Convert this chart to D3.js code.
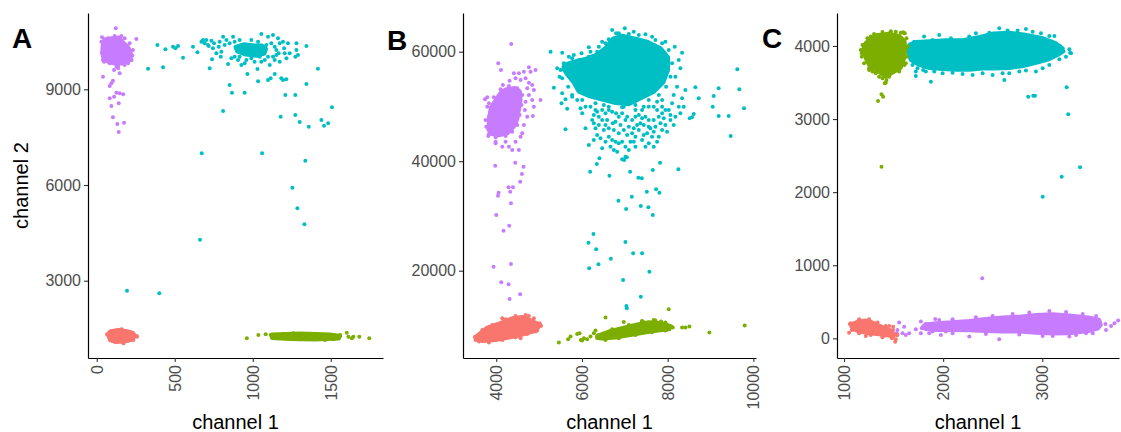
<!DOCTYPE html>
<html>
<head>
<meta charset="utf-8">
<script src="https://cdn.jsdelivr.net/npm/d3@7"></script>
<style>
  body { margin: 0; background: #fff; }
  svg text { font-family: "Liberation Sans", Arial, sans-serif; }
</style>
</head>
<body>
<svg id="chart" width="1121" height="432"></svg>
<script>
// ---------------- DATA (channel 1, channel 2) ----------------
// "Core" arrays are outlines of the densest part of a cluster, "Pts" are single droplets

// Panel A
const aXTicks = [0, 500, 1000, 1500];
const aYTicks = [3000, 6000, 9000];

const aRedCore = [[85,1407],[137,1454],[188,1423],[233,1360],[246,1266],[226,1156],[175,1094],[124,1078],[85,1140],[76,1266]];
const aRedPts = [[66,1313],[258,1242],[100,1420],[200,1120],[150,1460],[230,1200],
  [74,1351],[117,1432],[160,1476],[213,1370],[256,1266],[235,1140],[171,1037],[117,1087],[85,1194]];

const aGreenCore = [[1124,1313],[1303,1344],[1495,1313],[1560,1266],[1553,1188],[1399,1156],[1239,1172],[1124,1203]];
const aGreenPts = [[962,1194],[1036,1297],[1083,1319],[1115,1297],[1143,1244],[1603,1370],[1613,1244],[1635,1194],
  [1645,1244],[1683,1244],[1747,1194],[1196,1329],[1303,1162],[1410,1329],[1517,1162],[1560,1297],[1260,1350],[1463,1140]];

const aTealCore = [[890,10330],[940,10410],[1013,10370],[1060,10370],[1085,10270],[1075,10120],[1025,10050],[955,10090],[900,10190]];
const aTealPts = [[329,9647],[389,10389],[425,9689],[440,10253],[489,10336],[504,10284],[521,10357],[553,9992],[617,10336],
  [645,10159],[681,10546],[692,10441],[718,10357],[735,10525],[752,10441],[767,10128],[782,10336],[795,10023],[724,9657],
  [739,9939],[810,10650],[820,10389],[842,9793],[874,10650],[852,9135],[867,8894],[810,8320],[948,8894],[966,9480],
  [916,10546],[948,9814],[991,10546],[1030,9636],[1034,9250],[1055,10734],[1098,10650],[1098,9292],[1115,9344],[1130,10702],
  [1141,9480],[1162,10598],[1166,10128],[1173,9866],[1183,9344],[1194,9292],[1215,9312],[1209,8821],[1226,10441],[1237,10128],
  [1179,8142],[1273,8821],[1280,10441],[1280,10232],[1273,10023],[1290,10075],[1273,8194],[1301,7975],[1344,10357],[1344,9166],
  [1359,7829],[1418,9647],[1440,8038],[1457,7860],[1483,7933],[1508,8435],[970,10232],[1012,10128],[1077,9919],[1141,9919],
  [1151,10232],[906,9919],[884,10023],[1055,9866],[1012,9866],[959,9919],[1201,10284],[1216,9971],[1109,9762],[1045,10023],
  [1130,10023],[799,10180],[927,9762],
  [671,10493],[702,10546],[713,10389],[745,10284],[788,10493],[831,10546],[852,10441],[884,10493],[895,10284],[916,10180],
  [938,10337],[981,10389],[1002,10284],[1034,10493],[1066,10232],[1087,10389],[1119,10441],[1141,10337],[1173,10441],
  [1194,10493],[1205,10128],[863,9971],[916,10023],[991,9971],[1098,10023],[1151,10075],
  [673,6994],[1060,6994],[1337,6762],[1254,5915],[1286,5269],[1331,4768],[662,4285],[194,2686],[401,2605]];

const aPurpleCore = [[48,10561],[95,10602],[144,10621],[172,10452],[203,10310],[223,10075],[203,9900],[165,9806],[115,9809],
  [78,9856],[43,9953],[35,10179],[39,10414]];
const aPurplePts = [[122,10912],[34,10630],[254,10577],[158,10671],[228,10053],[40,9395],[104,9270],[147,9502],[94,9188],
  [83,9103],[126,8893],[147,8875],[169,8843],[83,8718],[111,8768],[141,8561],[94,8476],[104,8122],[132,7912],[175,7953],
  [141,7661],[126,9709],[111,9605],[137,9658],[72,9919],[47,9865],[201,9815],[222,9919],
  [30,10493],[34,10128],[40,9919],[72,10598],[115,10671],[179,10598],[211,10441],[232,10232],[222,9919],[179,9762],
  [137,9730],[83,9814]];

// Panel B
const bXTicks = [4000, 6000, 8000, 10000];
const bYTicks = [20000, 40000, 60000];

const bRedCore = [[3565,8208],[3775,9547],[4078,10399],[4373,11312],[4606,11555],[4777,11008],[4964,10338],[4979,9608],
  [4855,8877],[4591,8268],[4295,7782],[3985,7355],[3674,7173],[3557,7538]];
const bRedPts = [[3503,7843],[3518,7355],[5010,10399],[5041,9912],[4917,8877],[4567,7660],[4140,11312],[4761,11738],
  [3518,7964],[3674,9181],[3907,10094],[4218,11129],[4451,11738],[4684,11921],[4878,11312],[5033,10094],[4956,9060],
  [4723,8451],[4451,7843],[4140,7355],[3829,6868],[3596,7051]];

const bGreenCore = [[6354,8086],[6642,8938],[6953,9547],[7264,10155],[7559,10582],[7854,10399],[8056,9912],[8040,9303],
  [7776,9060],[7465,8694],[7093,8207],[6782,7782],[6471,7599],[6354,7721]];
const bGreenPts = [[5461,6868],[5678,7477],[5733,7964],[5888,8451],[5943,8573],[5974,7355],[6044,7660],[6199,7964],
  [6277,8573],[6316,9060],[6549,11434],[6976,10642],[7403,10825],[7442,10582],[7846,10703],[8025,12956],[8118,9608],
  [8336,9608],[8413,9608],[8507,9790],[8973,8694],[9796,9973],[6005,7234],[6121,7477],[7947,9486],[7714,10886],
  [6393,8269],[6704,9303],[7093,10094],[7403,10703],[7675,11008],[7947,10521],[8087,9790],[7947,9060],[7636,8755],
  [7248,8269],[6859,7660],[6549,7355]];

const bTealCore = [[5577,57570],[5810,58179],[6098,58727],[6331,59397],[6564,60797],[6720,62379],[6937,62927],[7248,62379],
  [7543,61770],[7838,60614],[8009,58971],[8009,56657],[7901,54405],[7683,52701],[7388,51544],[7093,50388],[6782,50631],
  [6471,51240],[6183,51849],[5927,52701],[5810,54345],[5647,55866],[5570,56901]];
const bTealPts = [[5267,60005],[5539,59823],[5694,59092],[5810,59397],[5989,59703],[6160,60797],[6199,60005],[6393,60917],
  [6471,61831],[6704,63962],[6859,63353],[6999,64266],[7209,63657],[7481,63170],[7714,62136],[7947,61831],[8165,60917],
  [8336,59823],[8258,58484],[8297,56962],[8180,55440],[8219,53614],[8141,52092],[8336,51484],[8413,53005],[8647,53492],
  [8724,51484],[9074,51910],[9190,53314],[9051,49962],[9190,48258],[9423,48258],[9625,56779],[9672,53127],[9781,49657],
  [9470,44605],[8569,48014],[8608,48623],[8514,47832],[5422,56962],[5476,55440],[5344,53431],[5539,52397],[5616,51301],
  [5523,50570],[5655,49596],[5616,45822],[6082,46005],[6160,42962],[6277,43875],[6277,46918],[6393,48136],[6510,45701],
  [6549,43570],[6626,44483],[6720,46918],[6797,48744],[6859,45092],[6937,43570],[7015,42657],[7093,46310],[7170,47527],
  [7248,44483],[7326,48440],[7442,46614],[7520,45092],[7559,43266],[7675,47527],[7714,46310],[7792,44483],[7870,48744],
  [7947,46614],[8025,49353],[8103,50570],[8180,48136],[8258,49962],[7870,51179],[7559,49962],[7403,49353],[7248,49353],
  [6937,48744],[6626,49353],[6471,49353],[6316,49353],[6199,49962],[6082,49962],[5966,49657],[5888,51179],[5771,51788],
  [7015,40831],[6937,40344],[6743,42049],[6471,42353],[6782,43570],[7131,43570],[7326,45701],[7597,46005],[7792,48136],
  [5888,53614],[6005,48744],
  [6277,48440],[6587,47527],[6743,45701],[6898,46614],[7054,44788],[7209,46005],[7364,46918],[7481,48136],[7636,44483],
  [7753,49353],[7908,47832],[8064,47527],[6665,42657],[6821,41744],[7093,42049],[7403,43875],[7248,42657],[7675,42657],
  [6549,46614],[6393,46614],[6354,44788],[6704,49049],[7054,48136],[7559,47527],[7986,45397],[7442,49962],[7753,50875],
  [8297,48744],[8375,49962],[6976,49962],[6510,50266],
  [6238,47527],[6316,46005],[6432,44179],[6471,47527],[6626,46005],[6704,43875],[6782,47223],[6859,43266],[6976,45701],
  [7015,47527],[7170,45092],[7209,43570],[7287,46614],[7442,44788],[7481,42657],[7559,46310],[7675,45397],[7753,43570],
  [7831,46918],[7870,49962],[7947,49353],[8064,48440],[8141,46614],[7675,49962],[7248,48136],[6859,48136],[6549,48744],
  [6354,49049],[7403,47832],[7870,45701],
  [6549,61527],[6626,62257],[6797,63353],[7093,63231],[7326,63049],[7636,62744],[7870,61527],[8025,60310],[8103,57875],
  [8064,55440],[7963,53614],[7792,52092],[7559,51179],[7248,50266],[6937,49840],[6626,49962],[6316,50570],[6005,51179],
  [5771,52092],[5678,53614],[5539,55136],[5500,56657],[5577,57875],[5771,58788],[5927,58484],[6160,59092],[6354,60005],
  [6191,38088],[6347,39494],[6641,37358],[6851,32793],[7030,31277],[6984,40224],[7046,40718],[7124,38088],[7317,36992],
  [7396,36883],[7163,33523],[7373,31825],[7513,34436],[7550,31587],[7653,30180],[7653,38398],[7730,34874],[7807,34253],
  [7823,39731],[8250,38526],[6408,40535],
  [6152,25123],[6268,26712],[6331,23918],[6385,21179],[6168,20449],[6673,22202],[7014,25251],[7194,23188],[7403,23188],
  [6960,18312],[7573,19828],[7373,15264],[7037,13565],[7046,13145]];

const bPurpleCore = [[4233,53127],[4435,53370],[4552,52762],[4567,51179],[4528,49353],[4490,47649],[4412,46310],[4272,45153],
  [4062,44727],[3891,44970],[3814,45822],[3837,48136],[3876,49840],[4016,51544],[4124,52701]];
const bPurplePts = [[4350,61405],[4047,57875],[4109,56657],[4412,56049],[4528,56049],[4645,56353],[4762,57144],[4800,56353],
  [4917,56657],[4451,55136],[4567,54831],[4684,55136],[4762,54344],[4839,53918],[4878,53005],[4723,53309],[4762,52092],
  [4684,50875],[4839,51179],[5033,51179],[4878,49962],[4855,48258],[4723,48136],[4645,46614],[4606,45092],[4567,44483],
  [4451,43570],[4295,42657],[4140,42657],[3985,43570],[3814,44605],[3736,51301],[3790,51666],[3829,50570],[3985,43266],
  [4373,42049],[4528,42049],[4218,43570],[4668,49353],[4155,53918],[4311,54709],[3985,47527],[3907,46918],[3751,47527],
  [3790,49962],[3829,48136],[3767,46310],[3829,44970],[3985,44361],[4218,44605],[4373,45397],[4490,46614],[4544,48440],
  [4591,50266],[4606,52092],[4490,53309],[4295,53735],[4101,53127],[3946,51666],
  [3977,39184],[4443,39731],[4637,39001],[4599,37668],[4559,36262],[4287,35239],[4389,35239],[4326,34436],[4054,34253],
  [4040,33706],[4343,32318],[4000,30180],[4170,27315],[4303,28228],[4343,21234],[3937,20741],[4117,17894],[4287,17527],
  [4310,14843],[4559,15701]];

// Panel C
const cXTicks = [1000, 2000, 3000];
const cYTicks = [0, 1000, 2000, 3000, 4000];

const cTealCore = [[1660,4018],[1731,4055],[1859,4064],[2027,4078],[2196,4078],[2367,4123],[2502,4169],[2667,4182],[2829,4155],
  [2994,4109],[3105,4055],[3182,3995],[3213,3927],[3155,3877],[3058,3813],[2930,3767],[2795,3722],[2667,3699],[2532,3690],
  [2398,3690],[2263,3676],[2128,3676],[1994,3685],[1862,3699],[1751,3745],[1674,3808],[1650,3900]];
const cTealPts = [[1707,4059],[1808,4128],[1893,4082],[1960,4150],[2078,4105],[2095,4037],[2263,4128],[2330,4173],[2465,4182],
  [2566,4242],[2650,4210],[2751,4210],[2835,4233],[2903,4196],[2987,4173],[3071,4137],[3122,4137],[3138,4037],[3206,3968],
  [3273,3954],[3290,3900],[3239,3854],[3172,3818],[3071,3740],[3004,3694],[2936,3649],[2835,3663],[2768,3649],[2667,3626],
  [2600,3626],[2499,3603],[2398,3626],[2297,3603],[2196,3617],[2095,3635],[1994,3626],[1910,3649],[1825,3649],[1724,3649],
  [1724,3590],[1876,3512],[2617,3535],[1798,3672],[1741,3694],[1691,3740],
  [2858,3306],[2909,3320],[2926,3320],[3246,3435],[3262,3066],[3196,2212],[3381,2340],[3004,1938],[3280,3908]];

const cGreenCore = [[1253,4082],[1327,4146],[1455,4169],[1556,4137],[1610,4068],[1620,3945],[1603,3818],[1569,3694],[1482,3631],
  [1421,3580],[1344,3653],[1266,3708],[1223,3822],[1192,3945],[1213,4027]];
const cGreenPts = [[1179,3854],[1219,4037],[1270,4128],[1522,4196],[1606,4173],[1253,3672],[1287,3649],[1388,3558],[1421,3498],
  [1354,3580],[1623,3763],[1169,3945],[1428,3535],[1394,3306],[1378,3339],[1343,3248],[1378,2349],[1411,3490],[1613,4174],[1596,4187],
  [1186,4014],[1236,4105],[1303,4164],[1388,4192],[1472,4201],[1573,4182],[1630,4105],[1640,3991],[1633,3854],[1610,3740],
  [1556,3649],[1455,3580],[1320,3626],[1253,3694],[1202,3763],[1179,3900]];

const cPurpleCore = [[1819,188],[1926,206],[2095,220],[2263,238],[2431,265],[2600,284],[2768,297],[2936,320],[3105,329],[3273,311],
  [3468,284],[3573,256],[3590,183],[3559,133],[3468,101],[3273,69],[3105,65],[2936,78],[2768,92],[2600,92],[2431,101],
  [2263,110],[2095,115],[1926,115],[1819,129],[1795,160]];
const cPurplePts = [[1556,215],[1606,160],[1539,115],[1590,69],[1623,47],[1532,69],[1657,69],[1775,229],[1785,138],[1775,69],
  [1832,160],[1859,69],[1920,265],[1960,252],[1977,47],[2027,92],[2263,24],[2566,-13],[3004,33],[3273,24],[3341,47],[3509,69],
  [3637,197],[3694,170],[3765,243],[3643,115],[3728,206],[1825,197],[1893,92],[1724,124],[2394,822],
  [2095,261],[2330,288],[2499,306],[2701,334],[2869,352],[3071,375],[3240,361],[3408,334],[3543,306],
  [2095,69],[2431,60],[2768,51],[3105,33],[3441,69]];

const cRedCore = [[1085,197],[1142,229],[1219,243],[1280,220],[1344,183],[1408,142],[1472,106],[1502,60],[1495,24],[1448,37],
  [1354,56],[1253,69],[1159,92],[1098,124],[1074,160]];
const cRedPts = [[1051,78],[1058,197],[1455,170],[1495,160],[1539,47],[1522,-13],[1516,-45],[1388,15],[1219,33],
  [1068,206],[1152,261],[1253,261],[1337,215],[1421,170],[1495,115],[1529,47],[1482,1],[1388,24],[1270,47],[1152,69],[1078,115]];

// ---------------- LAYOUT ----------------
const RED = "#F8766D", GREEN = "#7CAE00", TEAL = "#00BFC4", PURPLE = "#C77CFF";
const plotTop = 13, plotBottom = 358;

const panels = [
  { label: "A", labelX: 12, labelY: 48, left: 88, right: 383, xDomain: [-56, 1835], yDomain: [577, 11392],
    xTicks: aXTicks, yTicks: aYTicks, yTitle: "channel 2",
    groups: [[aRedCore, aRedPts, RED], [aGreenCore, aGreenPts, GREEN], [aTealCore, aTealPts, TEAL], [aPurpleCore, aPurplePts, PURPLE]] },
  { label: "B", labelX: 387, labelY: 50, left: 463, right: 756, xDomain: [3224, 10061], yDomain: [4055, 67067],
    xTicks: bXTicks, yTicks: bYTicks,
    groups: [[bRedCore, bRedPts, RED], [bGreenCore, bGreenPts, GREEN], [bTealCore, bTealPts, TEAL], [bPurpleCore, bPurplePts, PURPLE]] },
  { label: "C", labelX: 762, labelY: 48, left: 837, right: 1119, xDomain: [929, 3774], yDomain: [-269, 4451],
    xTicks: cXTicks, yTicks: cYTicks,
    groups: [[cTealCore, cTealPts, TEAL], [cGreenCore, cGreenPts, GREEN], [cPurpleCore, cPurplePts, PURPLE], [cRedCore, cRedPts, RED]] }
];

const svg = d3.select("#chart");

panels.forEach(p => {
  const x = d3.scaleLinear().domain(p.xDomain).range([p.left, p.right]);
  const y = d3.scaleLinear().domain(p.yDomain).range([plotBottom, plotTop]);
  const g = svg.append("g");

  const outline = d3.line()
    .x(d => x(d[0]))
    .y(d => y(d[1]))
    .curve(d3.curveLinearClosed);

  // clusters
  p.groups.forEach(([core, pts, color]) => {
    g.append("path")
      .datum(core)
      .attr("d", outline)
      .attr("fill", color)
      .attr("stroke", color)
      .attr("stroke-width", 4)
      .attr("stroke-linejoin", "round");

    g.selectAll(null)
      .data(pts)
      .join("circle")
        .attr("cx", d => x(d[0]))
        .attr("cy", d => y(d[1]))
        .attr("r", 2)
        .attr("fill", color);
  });

  // axes
  const yAxis = g.append("g")
    .attr("transform", `translate(${p.left},0)`)
    .call(d3.axisLeft(y).tickValues(p.yTicks).tickFormat(d3.format("d")).tickSize(4).tickPadding(3).tickSizeOuter(0));

  const xAxis = g.append("g")
    .attr("transform", `translate(0,${plotBottom})`)
    .call(d3.axisBottom(x).tickValues(p.xTicks).tickFormat(d3.format("d")).tickSize(4).tickPadding(3).tickSizeOuter(0));

  xAxis.selectAll(".tick text")
    .attr("transform", "rotate(-90)")
    .attr("x", -7)
    .attr("y", 0)
    .attr("dy", "0.35em")
    .attr("text-anchor", "end");

  [xAxis, yAxis].forEach(a => {
    a.select(".domain").attr("stroke", "#000").attr("stroke-width", 1.2);
    a.selectAll(".tick line").attr("stroke", "#333").attr("stroke-width", 1.1);
    a.selectAll(".tick text")
      .attr("fill", "#4d4d4d")
      .style("font-size", "16px")
      .style("font-family", "'Liberation Sans', Arial, sans-serif");
  });

  // titles
  g.append("text")
    .attr("x", (p.left + p.right) / 2)
    .attr("y", 429)
    .attr("text-anchor", "middle")
    .style("font-size", "20px")
    .text("channel 1");

  if (p.yTitle) {
    g.append("text")
      .attr("transform", `translate(28,${(plotTop + plotBottom) / 2}) rotate(-90)`)
      .attr("text-anchor", "middle")
      .style("font-size", "20px")
      .text(p.yTitle);
  }

  g.append("text")
    .attr("x", p.labelX)
    .attr("y", p.labelY)
    .style("font-size", "28px")
    .style("font-weight", "bold")
    .text(p.label);
});
</script>
</body>
</html>
